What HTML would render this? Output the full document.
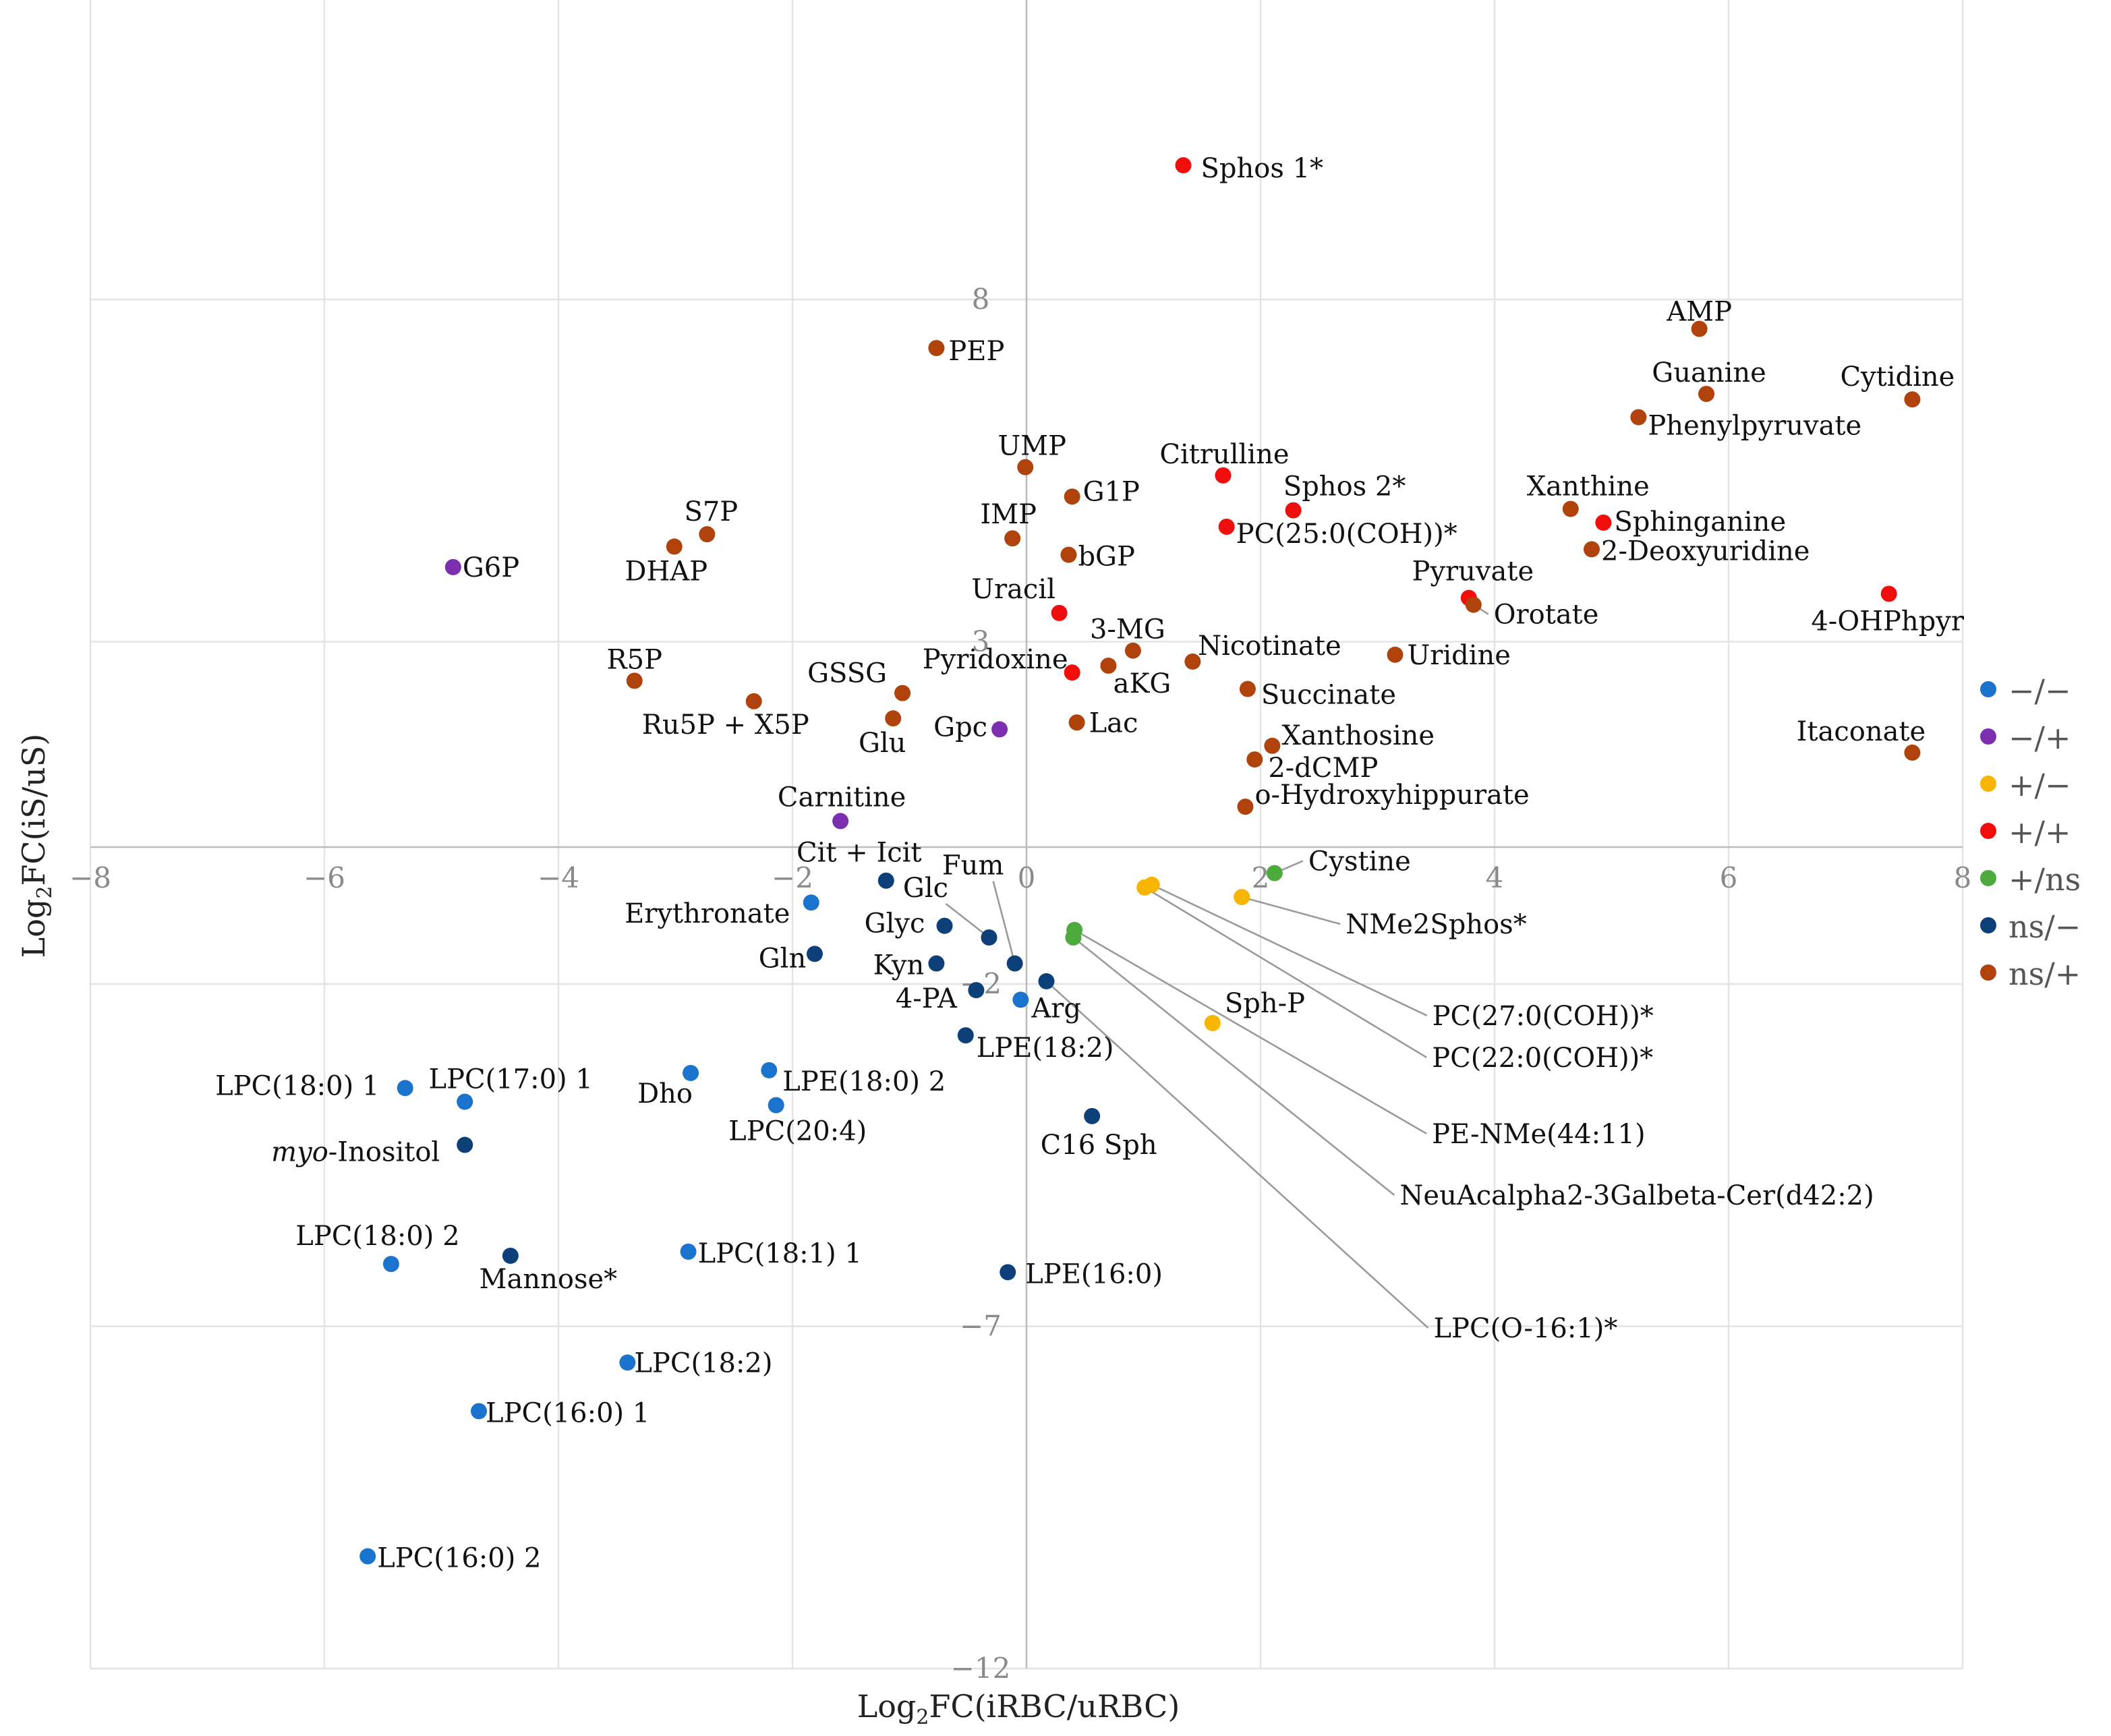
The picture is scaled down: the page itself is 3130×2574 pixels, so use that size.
<!DOCTYPE html>
<html><head><meta charset="utf-8"><style>
html,body{margin:0;padding:0;background:#fff;}
svg{display:block;}
text{font-family:"DejaVu Serif","Liberation Serif",serif;}
</style></head><body>
<svg id="chart" width="3130" height="2574" viewBox="0 0 1565 1287" xmlns="http://www.w3.org/2000/svg">
<g id="grid"></g>
<g id="axes"></g>
<g id="leaders"></g>
<g id="points"></g>
<g id="labels"></g>
<g id="legend"></g>
<text x="755" y="1273" text-anchor="middle" font-size="23" fill="#222">Log<tspan font-size="15" dy="5">2</tspan><tspan dy="-5">FC(iRBC/uRBC)</tspan></text>
<text transform="translate(33,627) rotate(-90)" text-anchor="middle" font-size="23" fill="#222">Log<tspan font-size="15" dy="5">2</tspan><tspan dy="-5">FC(iS/uS)</tspan></text>
</svg>
<script>
const names = ["Sphos 1*","AMP","PEP","Guanine","Cytidine","Phenylpyruvate","UMP","Citrulline","G1P","Sphos 2*","Xanthine","Sphinganine","PC(25:0(COH))*","IMP","bGP","2-Deoxyuridine","S7P","DHAP","G6P","Uracil","Pyruvate","Orotate","4-OHPhpyr","3-MG","Nicotinate","Uridine","Pyridoxine","aKG","R5P","GSSG","Succinate","Ru5P + X5P","Glu","Lac","Gpc","Xanthosine","2-dCMP","Itaconate","o-Hydroxyhippurate","Carnitine","Cit + Icit","Cystine","Glyc","Glc","Fum","LPC(O-16:1)*","PC(22:0(COH))*","PC(27:0(COH))*","NMe2Sphos*","Sph-P","PE-NMe(44:11)","NeuAcalpha2-3Galbeta-Cer(d42:2)","Erythronate","Gln","Kyn","4-PA","Arg","LPE(18:2)","LPC(18:0) 1","LPC(17:0) 1","Dho","LPE(18:0) 2","LPC(20:4)","C16 Sph","myo-Inositol","LPC(18:0) 2","Mannose*","LPC(18:1) 1","LPE(16:0)","LPC(18:2)","LPC(16:0) 1","LPC(16:0) 2"];
const xValues = [1.34,5.75,-0.77,5.81,7.57,5.23,-0.01,1.68,0.39,2.28,4.65,4.93,1.71,-0.12,0.36,4.83,-2.73,-3.01,-4.90,0.28,3.78,3.82,7.37,0.91,1.42,3.15,0.39,0.70,-3.35,-1.06,1.89,-2.33,-1.14,0.43,-0.23,2.10,1.95,7.57,1.87,-1.59,-1.20,2.12,-0.70,-0.32,-0.10,0.17,1.01,1.07,1.84,1.59,0.41,0.40,-1.84,-1.81,-0.77,-0.43,-0.05,-0.52,-5.31,-4.80,-2.87,-2.20,-2.14,0.56,-4.80,-5.43,-4.41,-2.89,-0.16,-3.41,-4.68,-5.63];
const yValues = [9.96,7.57,7.29,6.62,6.54,6.28,5.55,5.43,5.12,4.92,4.94,4.74,4.68,4.51,4.27,4.35,4.57,4.39,4.09,3.42,3.64,3.54,3.70,2.87,2.71,2.81,2.55,2.65,2.43,2.25,2.31,2.13,1.88,1.82,1.72,1.48,1.28,1.38,0.59,0.38,-0.49,-0.38,-1.15,-1.32,-1.70,-1.96,-0.59,-0.55,-0.73,-2.57,-1.21,-1.32,-0.81,-1.56,-1.70,-2.09,-2.23,-2.75,-3.52,-3.72,-3.30,-3.26,-3.77,-3.93,-4.35,-6.09,-5.97,-5.91,-6.21,-7.53,-8.24,-10.36];
const groups = ["+/+","ns/+","ns/+","ns/+","ns/+","ns/+","ns/+","+/+","ns/+","+/+","ns/+","+/+","+/+","ns/+","ns/+","ns/+","ns/+","ns/+","-/+","+/+","+/+","ns/+","+/+","ns/+","ns/+","ns/+","+/+","ns/+","ns/+","ns/+","ns/+","ns/+","ns/+","ns/+","-/+","ns/+","ns/+","ns/+","ns/+","-/+","ns/-","+/ns","ns/-","ns/-","ns/-","ns/-","+/-","+/-","+/-","+/-","+/ns","+/ns","-/-","ns/-","ns/-","ns/-","-/-","ns/-","-/-","-/-","-/-","-/-","-/-","ns/-","ns/-","-/-","ns/-","-/-","ns/-","-/-","-/-","-/-"];
const xTicks = [-8,-6,-4,-2,0,2,4,6,8];
const yTicks = [8,3,-2,-7,-12];
const legendGroups = ["-/-","-/+","+/-","+/+","+/ns","ns/-","ns/+"];
const legendLabels = ["\u2212/\u2212","\u2212/+","+/\u2212","+/+","+/ns","ns/\u2212","ns/+"];

const colors = {"-/-":"#1a73cc","-/+":"#7b2fb0","+/-":"#f7b500","+/+":"#f20d0d","+/ns":"#4cab3c","ns/-":"#0d3f78","ns/+":"#b0420c"};
const labelOffsets = [[13,2,"s",0],[0,-13,"m",0],[9,2,"s",0],[2,-16,"m",0],[-11,-17,"m",0],[7,6,"s",0],[5,-16,"m",0],[1,-16,"m",0],[8,-4,"s",0],[38,-18,"m",0],[13,-17,"m",0],[8,-1,"s",0],[7,5,"s",0],[-3,-18,"m",0],[7,1,"s",0],[7,1,"s",0],[3,-17,"m",0],[-6,18,"m",0],[7,0,"s",0],[-34,-18,"m",0],[3,-20,"m",0],[15,7,"s",1],[-1,20,"m",0],[-4,-16,"m",0],[57,-12,"m",0],[9,0,"s",0],[-57,-10,"m",0],[25,13,"m",0],[0,-16,"m",0],[-41,-15,"m",0],[10,4,"s",0],[-21,17,"m",0],[-8,18,"m",0],[9,0,"s",0],[-29,-2,"m",0],[7,-8,"s",0],[10,6,"s",0],[-38,-16,"m",0],[7,-9,"s",0],[1,-18,"m",0],[-20,-21,"m",0],[25,-9,"s",1],[-37,-2,"m",0],[-47,-37,"m",1],[-31,-73,"m",1],[287,257,"s",1],[213,126,"s",1],[208,97,"s",1],[77,20,"s",1],[9,-15,"s",0],[265,151,"s",1],[242,191,"s",1],[-77,8,"m",0],[-24,3,"m",0],[-28,1,"m",0],[-37,6,"m",0],[8,6,"s",0],[8,9,"s",0],[-80,-2,"m",0],[34,-17,"m",0],[-19,15,"m",0],[10,8,"s",0],[16,19,"m",0],[5,21,"m",0],[-81,5,"m",0],[-10,-21,"m",0],[28,17,"m",0],[7,1,"s",0],[13,1,"s",0],[5,0,"s",0],[5,1,"s",0],[7,1,"s",0]];

const NS="http://www.w3.org/2000/svg";
const X0=67,X1=1455,Y8=222,Yn12=1237;
function sx(v){return X0+(v+8)*(X1-X0)/16;}
function sy(v){return Y8+(8-v)*(Yn12-Y8)/20;}
function mk(tag,attrs,parent){const e=document.createElementNS(NS,tag);for(const k in attrs)e.setAttribute(k,attrs[k]);parent.appendChild(e);return e;}
const grid=document.getElementById('grid'),axes=document.getElementById('axes');
xTicks.forEach(t=>{
  const l=mk('line',{x1:sx(t),x2:sx(t),y1:0,y2:sy(-12),stroke:'#e3e3e3','stroke-width':1.2},grid);
  
  
  if(t!==0){const tx=mk('text',{x:sx(t),y:sy(0)+30,'text-anchor':'middle','font-size':21,fill:'#8a8a8a'},axes);
  tx.textContent=t<0?'\u2212'+(-t):String(t);
  
  }
});
yTicks.forEach(t=>{
  const l=mk('line',{x1:X0,x2:X1,y1:sy(t),y2:sy(t),stroke:'#e3e3e3','stroke-width':1.2},grid);
  
  
  const tx=mk('text',{x:sx(0)-34,y:sy(t)+7,'text-anchor':'middle','font-size':21,fill:'#8a8a8a'},axes);
  tx.textContent=t<0?'\u2212'+(-t):String(t);
  
  
});
const xa=mk('line',{x1:X0,x2:X1,y1:sy(0),y2:sy(0),stroke:'#bdbdbd','stroke-width':1.3},axes);


const ya=mk('line',{x1:sx(0),x2:sx(0),y1:0,y2:sy(-12),stroke:'#bdbdbd','stroke-width':1.3},axes);


const x0t=mk('text',{x:sx(0),y:sy(0)+30,'text-anchor':'middle','font-size':21,fill:'#8a8a8a'},axes);
x0t.textContent='0';



const pg=document.getElementById('points'),lg=document.getElementById('labels'),ld=document.getElementById('leaders');
names.forEach((n,i)=>{
  const px=sx(xValues[i]),py=sy(yValues[i]);
  const o=labelOffsets[i];const lx=px+o[0],ly=py+o[1];
  if(o[3]){
    const ex=o[2]==='s'?lx-4:lx+15, ey=o[2]==='s'?ly:ly+12;
    const ln=mk('line',{x1:px,y1:py,x2:ex,y2:ey,stroke:'#9a9a9a','stroke-width':1.3},ld);
    
    
  }
  const c=mk('circle',{cx:px,cy:py,r:6,fill:colors[groups[i]]},pg);
  
  
  const t=mk('text',{x:lx,y:ly+7,'text-anchor':o[2]==='s'?'start':'middle','font-size':20,fill:'#111'},lg);
  if(n==='myo-Inositol'){t.innerHTML='<tspan font-style="italic">myo</tspan>-Inositol';}else{t.textContent=n;}
  
  
});
const lgd=document.getElementById('legend');
legendGroups.forEach((g,i)=>{
  const y=511+i*35;
  const c=mk('circle',{cx:1474,cy:y,r:6,fill:colors[g]},lgd);
  
  
  const t=mk('text',{x:1489,y:y+9,'font-size':23,fill:'#555'},lgd);
  t.textContent=legendLabels[i];
  
  
});
</script>
</body></html>
